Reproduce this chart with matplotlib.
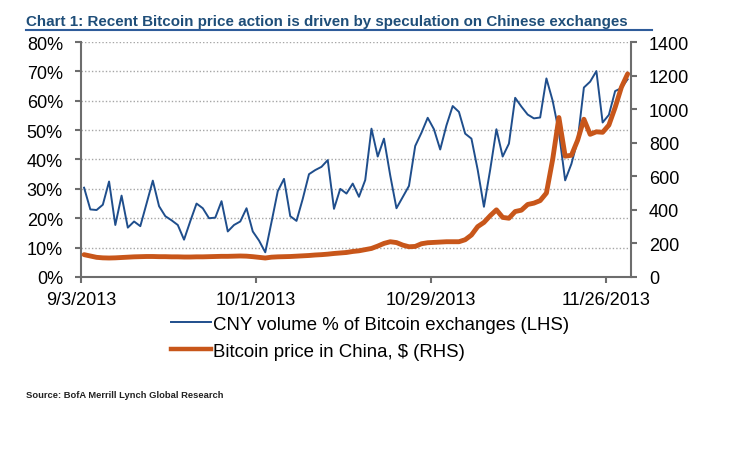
import pandas as pd
import numpy as np
import matplotlib
matplotlib.use("Agg")
import matplotlib.pyplot as plt
from matplotlib import font_manager
from matplotlib.lines import Line2D

# CNY share of bitcoin exchange volume (%), one value a day from 9/3/2013
cny_volume_pct = [30.4, 23.0, 22.8, 24.6, 32.5, 17.7, 27.7, 16.8, 18.9, 17.3,
                  25.0, 32.8, 24.1, 20.7, 19.3, 17.7, 12.7, 19.0, 25.0, 23.4,
                  20.0, 20.2, 25.8, 15.5, 17.7, 18.9, 23.4, 15.5, 12.4, 8.4,
                  18.7, 29.2, 33.4, 20.7, 19.1, 26.6, 35.0, 36.4, 37.5, 39.8,
                  23.2, 30.0, 28.4, 31.8, 27.3, 33.0, 50.5, 41.0, 47.1, 34.6,
                  23.4, 27.2, 31.0, 44.6, 49.1, 54.2, 50.3, 43.4, 51.6, 58.2,
                  56.2, 48.8, 47.1, 36.5, 23.9, 36.5, 50.3, 41.0, 45.4, 61.0,
                  58.0, 55.3, 54.0, 54.3, 67.6, 60.0, 49.4, 32.9, 38.5, 46.5,
                  64.5, 66.5, 70.1, 52.6, 55.2, 63.3, 64.3, 67.3]

# bitcoin price in China, $
btc_price = [133, 125, 117, 114, 113, 114, 116, 118, 120, 121,
             122, 122, 121, 121, 120, 120, 119, 119, 120, 120,
             121, 122, 123, 123, 124, 125, 124, 121, 117, 113,
             118, 120, 121, 122, 124, 126, 128, 131, 133, 136,
             140, 143, 146, 152, 156, 163, 170, 184, 200, 210,
             205, 190, 180, 182, 198, 204, 206, 208, 210, 210,
             210, 222, 250, 300, 325, 365, 400, 355, 350, 390,
             398, 432, 440, 455, 500, 700, 950, 720, 725, 815,
             940, 850, 865, 862, 905, 1010, 1130, 1210]

tick_dates = ["2013-09-03", "2013-10-01", "2013-10-29", "2013-11-26"]
tick_labels = ["9/3/2013", "10/1/2013", "10/29/2013", "11/26/2013"]

left_ticks = [0, 10, 20, 30, 40, 50, 60, 70, 80]
right_ticks = [0, 200, 400, 600, 800, 1000, 1200, 1400]

title_text = "Chart 1: Recent Bitcoin price action is driven by speculation on Chinese exchanges"
source_text = "Source: BofA Merrill Lynch Global Research"
label_volume = "CNY volume % of Bitcoin exchanges (LHS)"
label_price = "Bitcoin price in China, $ (RHS)"

blue = "#1F4E8C"
orange = "#C8561A"
axis_grey = "#6d6d6d"

plt.rcParams['font.family'] = ['Liberation Sans', 'DejaVu Sans']

installed = set(f.name for f in font_manager.fontManager.ttflist)
narrow = 'Liberation Sans Narrow' if 'Liberation Sans Narrow' in installed else 'Liberation Sans'

# points sit in the middle of each day
dates = pd.date_range("2013-09-03", periods=len(cny_volume_pct), freq="D") + pd.Timedelta(hours=12)

fig = plt.figure(figsize=(7.36, 4.6), dpi=100)
ax = fig.add_axes([0.110, 0.3957, 0.747, 0.5108])
ax2 = ax.twinx()

ax.plot(dates, cny_volume_pct, color=blue, lw=1.4, label=label_volume)
ax2.plot(dates, btc_price, color=orange, lw=3.5, solid_capstyle='round', label=label_price)

ax.set_xlim(pd.Timestamp("2013-09-03"), pd.Timestamp("2013-11-30"))
ax.set_ylim(0, 80)
ax2.set_ylim(0, 1400)

ax.set_xticks(pd.to_datetime(tick_dates))
ax.set_xticklabels(tick_labels)
ax.set_yticks(left_ticks)
ax.set_yticklabels([str(t) + "%" for t in left_ticks])
ax2.set_yticks(right_ticks)
ax2.set_yticklabels([str(t) for t in right_ticks])

# dotted grid on the left scale
ax.yaxis.grid(True, linestyle=(0, (1, 1.5)), color="#a6a6a6", lw=1)
ax.set_axisbelow(True)

for a in (ax, ax2):
    a.spines['top'].set_visible(False)
    for s in a.spines.values():
        s.set_color(axis_grey)
        s.set_linewidth(1.5)
ax.spines['right'].set_visible(False)
ax2.spines['left'].set_visible(False)
ax2.spines['bottom'].set_visible(False)

ax.tick_params(axis='y', direction='out', length=4, width=1.5, color=axis_grey,
               labelsize=13, pad=9)
ax.tick_params(axis='x', direction='out', length=4, width=1.5, color=axis_grey,
               labelsize=13, pad=6)
ax2.tick_params(axis='y', direction='out', length=4, width=1.5, color=axis_grey,
                labelsize=13, pad=9)

# legend below the chart
handles = [Line2D([], [], color=blue, lw=1.4), Line2D([], [], color=orange, lw=3.2)]
fig.legend(handles, [label_volume, label_price], loc='upper left',
           bbox_to_anchor=(0.2323, 0.3113), frameon=False, fontsize=13.4,
           handlelength=2.15, handletextpad=0.12, labelspacing=0.54,
           borderpad=0, borderaxespad=0)

# title and source, fitted to the width they take in the original
title = fig.text(26 / 736, 1 - 26 / 460, title_text, family=narrow, weight='bold',
                 color="#1F4E79", fontsize=14, va='baseline', ha='left')
source = fig.text(26 / 736, 1 - 398 / 460, source_text, family=narrow, weight='bold',
                  color="#222222", fontsize=7, va='baseline', ha='left')
fig.canvas.draw()
renderer = fig.canvas.get_renderer()
for txt, width in ((title, 602), (source, 197)):
    w = txt.get_window_extent(renderer).width
    txt.set_fontsize(txt.get_fontsize() * width / w)

fig.add_artist(Line2D([26 / 736, 652 / 736], [1 - 31 / 460, 1 - 31 / 460],
                      color="#2E5C9A", lw=1.5))

fig.savefig("out.png", dpi=100)
